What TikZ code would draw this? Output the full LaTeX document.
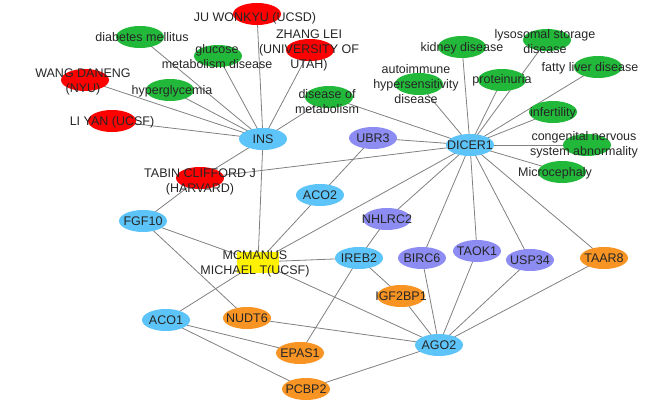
\documentclass[tikz,border=0pt]{standalone}
\usepackage{fontspec}
\setmainfont{Liberation Sans}
\usetikzlibrary{backgrounds,shapes.geometric}
\definecolor{skyb}{HTML}{5CC4F8}
\definecolor{lilac}{HTML}{8C8CF2}
\definecolor{leaf}{HTML}{22B83A}
\definecolor{tang}{HTML}{F79423}
\begin{document}
\begin{tikzpicture}
        [x=1pt, y=-1pt,
        blob/.style={ellipse,minimum width=48pt,minimum height=22pt,inner sep=0pt},
        gene/.style={blob,fill=skyb},
        prot/.style={blob,fill=lilac},
        rna/.style={blob,fill=tang},
        dis/.style={blob,fill=leaf},
        who/.style={blob,fill=red},
        lbl/.style={font=\fontsize{12.5}{15}\selectfont,align=center,text=black!85},
        edge/.style={draw=gray,line width=0.8pt}]
        \useasboundingbox (0,0) rectangle (672,412);
        % hubs
        \node[gene] (INS) at (263,139) {};
        \node[gene] (DICER1) at (470,145) {};
        \node[gene] (AGO2) at (439,345) {};
        % people
        \node[who] (ju) at (257,14) {};
        \node[who] (zhang) at (310,50) {};
        \node[who] (wang) at (85,80) {};
        \node[who] (li) at (112,121) {};
        \node[who] (tabin) at (200,178) {};
        \node[fill=yellow,minimum width=42pt,minimum height=21pt] (mcm) at (258,262) {};
        % diseases
        \node[dis] (diab) at (140,37) {};
        \node[dis] (gluc) at (218,56) {};
        \node[dis] (hyper) at (170,90) {};
        \node[dis] (metab) at (329,97) {};
        \node[dis] (kidney) at (462,47) {};
        \node[dis] (lyso) at (547,40) {};
        \node[dis] (auto) at (419,84) {};
        \node[dis] (prot) at (502,80) {};
        \node[dis] (fatty) at (598,67) {};
        \node[dis] (infert) at (553,112) {};
        \node[dis] (cong) at (587,145) {};
        \node[dis] (micro) at (562,172) {};
        % genes
        \node[prot] (UBR3) at (373,138) {};
        \node[gene] (ACO2) at (320,195) {};
        \node[gene] (FGF10) at (143,221) {};
        \node[prot] (NHLRC2) at (387,219) {};
        \node[gene] (IREB2) at (359,258) {};
        \node[prot] (BIRC6) at (422,258) {};
        \node[prot] (TAOK1) at (477,251) {};
        \node[prot] (USP34) at (530,260) {};
        \node[rna] (TAAR8) at (604,258) {};
        \node[rna] (IGF2BP1) at (401,296) {};
        \node[rna] (NUDT6) at (247,318) {};
        \node[gene] (ACO1) at (166,320) {};
        \node[rna] (EPAS1) at (300,353) {};
        \node[rna] (PCBP2) at (306,389) {};

        \begin{scope}[on background layer]
        \foreach \n in {ju,diab,gluc,zhang,wang,hyper,metab,li,tabin,mcm}
            \draw[edge] (INS.center) -- (\n.center);
        \foreach \n in {metab,UBR3,auto,kidney,prot,lyso,fatty,infert,cong,micro,tabin,mcm,NHLRC2,BIRC6,TAOK1,USP34,TAAR8}
            \draw[edge] (DICER1.center) -- (\n.center);
        \foreach \n in {IGF2BP1,BIRC6,TAOK1,USP34,TAAR8,NUDT6,PCBP2,mcm}
            \draw[edge] (AGO2.center) -- (\n.center);
        \draw[edge] (UBR3.center) -- (ACO2.center);
        \draw[edge] (ACO2.center) -- (mcm.center);
        \draw[edge] (tabin.center) -- (FGF10.center);
        \draw[edge] (FGF10.center) -- (mcm.center);
        \draw[edge] (FGF10.center) -- (NUDT6.center);
        \draw[edge] (mcm.center) -- (IREB2.center);
        \draw[edge] (mcm.center) -- (ACO1.center);
        \draw[edge] (NHLRC2.center) -- (IREB2.center);
        \draw[edge] (IREB2.center) -- (IGF2BP1.center);
        \draw[edge] (IREB2.center) -- (EPAS1.center);
        \draw[edge] (ACO1.center) -- (EPAS1.center);
        \draw[edge] (ACO1.center) -- (PCBP2.center);
        \end{scope}

        % labels
        \foreach \n/\t in {INS/INS,DICER1/DICER1,AGO2/AGO2,UBR3/UBR3,ACO2/ACO2,FGF10/FGF10,NHLRC2/NHLRC2,IREB2/IREB2,BIRC6/BIRC6,TAOK1/TAOK1,USP34/USP34,TAAR8/TAAR8,IGF2BP1/IGF2BP1,NUDT6/NUDT6,ACO1/ACO1,EPAS1/EPAS1,PCBP2/PCBP2}
            \node[lbl] at (\n) {\t};
        \node[lbl] at (255,18) {JU WONKYU (UCSD)};
        \node[lbl] at (309,50) {ZHANG LEI\\(UNIVERSITY OF\\UTAH)};
        \node[lbl] at (83,82) {WANG DANENG\\(NYU)};
        \node[lbl] at (112,122) {LI YAN (UCSF)};
        \node[lbl] at (200,182) {TABIN CLIFFORD J\\(HARVARD)};
        \node[lbl] at (255,264) {MCMANUS\\MICHAEL T(UCSF)};
        \node[lbl] at (142,37) {diabetes mellitus};
        \node[lbl] at (217,57) {glucose\\metabolism disease};
        \node[lbl] at (172,91) {hyperglycemia};
        \node[lbl] at (327,102) {disease of\\metabolism};
        \node[lbl] at (462,48) {kidney disease};
        \node[lbl] at (545,42) {lysosomal storage\\disease};
        \node[lbl] at (416,84) {autoimmune\\hypersensitivity\\disease};
        \node[lbl] at (502,80) {proteinuria};
        \node[lbl] at (590,68) {fatty liver disease};
        \node[lbl] at (553,113) {infertility};
        \node[lbl] at (584,145) {congenital nervous\\system abnormality};
        \node[lbl] at (555,173) {Microcephaly};
\end{tikzpicture}
\end{document}
